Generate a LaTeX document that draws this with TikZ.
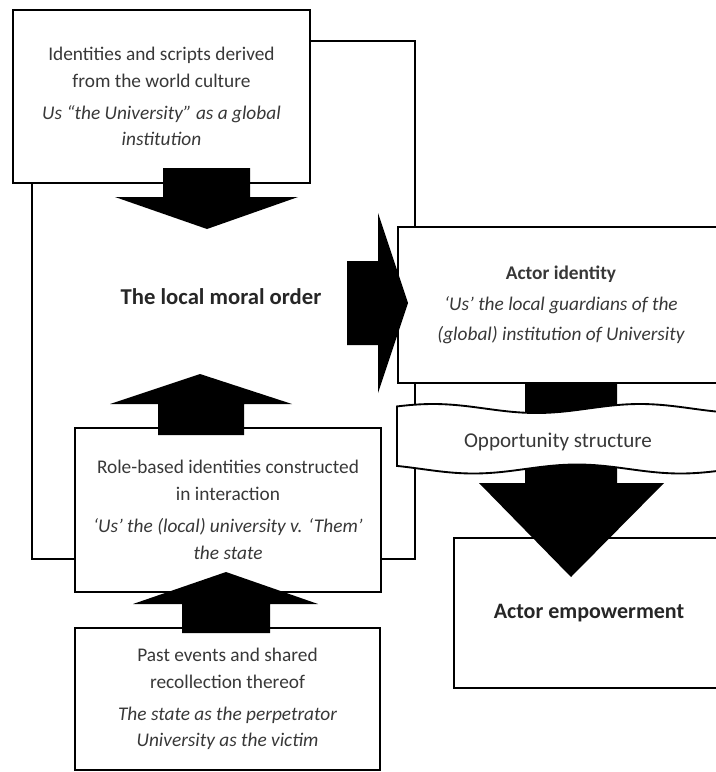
\documentclass[tikz,border=0pt]{standalone}
\usepackage{fontspec}
\setmainfont{Carlito}
\usetikzlibrary{positioning}

\begin{document}
\begin{tikzpicture}[
  x=0.75pt,y=-0.75pt,
  font=\fontsize{14.5}{20}\selectfont,
  box/.style={draw,line width=1.8pt,fill=white,align=center,text=black!78,inner sep=0pt},
  frameline/.style={draw,line width=1.6pt},
  blockarrow/.style={fill=black},
  banner/.style={draw,line width=1.4pt,fill=white},
  heading/.style={font=\fontsize{16.5}{20}\selectfont\bfseries,text=black!85}
]
\useasboundingbox (0,0) rectangle (716,772);
\clip (0,0) rectangle (716,772);

% frame behind the left-hand boxes
\draw[frameline] (32,41) rectangle (415,559);

\node[box,minimum width=222.75pt,minimum height=129.75pt] (world) at (161.5,96.5)
  {Identities and scripts derived\\from the world culture\\[4pt]
   \itshape Us ``the University'' as a global\\\itshape institution};
\node[heading,font=\fontsize{17}{20}\selectfont\bfseries] (moral) at (221,297) {The local moral order};
\node[box,minimum width=229.5pt,minimum height=123pt] (role) at (228,510)
  {Role-based identities constructed\\in interaction\\[4pt]
   \itshape `Us' the (local) university v. `Them'\\\itshape the state};
\node[box,minimum width=228.75pt,minimum height=106.5pt] (past) at (227.5,699)
  {Past events and shared\\recollection thereof\\[4pt]
   \itshape The state as the perpetrator\\\itshape University as the victim};
\node[box,minimum width=244.5pt,minimum height=117pt,font=\fontsize{14.5}{22.5}\selectfont] (actor) at (561,305)
  {\textbf{Actor identity}\\[1pt]
   \itshape `Us' the local guardians of the\\\itshape (global) institution of University};
\node[box,heading,minimum width=202.5pt,minimum height=112.5pt] (empower) at (589,613)
  {Actor empowerment};

% block arrows
\fill[blockarrow] (163,168) -- (250,168) -- (250,197) -- (298,197) -- (207,229) -- (115,197) -- (163,197) -- cycle;
\fill[blockarrow] (347,261) -- (378,261) -- (378,213) -- (408,303) -- (378,393) -- (378,345) -- (347,345) -- cycle;
\fill[blockarrow] (158,435) -- (158,404) -- (110,404) -- (200,374) -- (292,404) -- (244,404) -- (244,435) -- cycle;
\fill[blockarrow] (182,633) -- (182,604) -- (133,604) -- (226,572) -- (318,604) -- (270,604) -- (270,633) -- cycle;
\fill[blockarrow] (525,383) -- (617,383) -- (617,483) -- (664,483) -- (571,577) -- (479,483) -- (525,483) -- cycle;

% wavy banner
\draw[banner] plot[domain=397:724,samples=80,smooth] (\x,{408.5-4.5*cos(1.739*(\x-433))})
  -- plot[domain=724:397,samples=80,smooth] (\x,{469-4.5*cos(1.739*(\x-577))}) -- cycle;
\node[font=\fontsize{15.8}{18}\selectfont,text=black!78] (opp) at (558,442) {Opportunity structure};
\end{tikzpicture}
\end{document}
